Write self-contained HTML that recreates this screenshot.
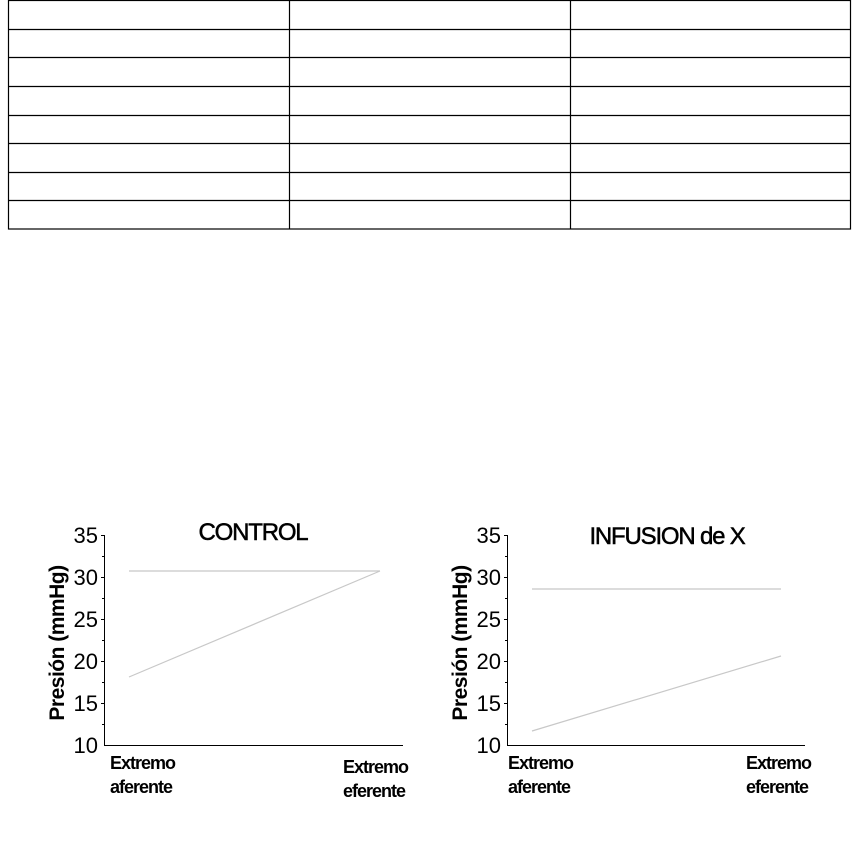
<!DOCTYPE html>
<html><head><meta charset="utf-8"><style>
html,body{margin:0;padding:0;background:#fff;width:852px;height:841px;overflow:hidden}
</style></head><body>
<svg width="852" height="841" xmlns="http://www.w3.org/2000/svg" font-family="Liberation Sans, sans-serif">
<g stroke="#000" stroke-width="1.2" fill="none">
<rect x="8.5" y="0.5" width="842" height="228.5"/>
<line x1="289.5" y1="0" x2="289.5" y2="229"/>
<line x1="570.5" y1="0" x2="570.5" y2="229"/>
<line x1="8" y1="29.5" x2="851" y2="29.5"/>
<line x1="8" y1="57.5" x2="851" y2="57.5"/>
<line x1="8" y1="86.5" x2="851" y2="86.5"/>
<line x1="8" y1="115.5" x2="851" y2="115.5"/>
<line x1="8" y1="143.5" x2="851" y2="143.5"/>
<line x1="8" y1="172.5" x2="851" y2="172.5"/>
<line x1="8" y1="200.5" x2="851" y2="200.5"/>
</g>
<!-- Chart 1 -->
<g>
<line x1="104.5" y1="535" x2="104.5" y2="746" stroke="#000"/>
<line x1="104" y1="745.5" x2="403" y2="745.5" stroke="#000"/>
<g stroke="#000">
<line x1="101" y1="535.5" x2="104" y2="535.5"/><line x1="101" y1="577.5" x2="104" y2="577.5"/><line x1="101" y1="619.5" x2="104" y2="619.5"/><line x1="101" y1="661.5" x2="104" y2="661.5"/><line x1="101" y1="703.5" x2="104" y2="703.5"/>
<line x1="102" y1="556.5" x2="104" y2="556.5"/><line x1="102" y1="598.5" x2="104" y2="598.5"/><line x1="102" y1="640.5" x2="104" y2="640.5"/><line x1="102" y1="682.5" x2="104" y2="682.5"/><line x1="102" y1="724.5" x2="104" y2="724.5"/>
</g>
<g font-size="22" text-anchor="end" fill="#000">
<text x="98" y="543">35</text><text x="98" y="585">30</text><text x="98" y="627">25</text><text x="98" y="669">20</text><text x="98" y="711">15</text><text x="98" y="753">10</text>
</g>
<text transform="translate(64,643) rotate(-90)" font-size="21" font-weight="bold" text-anchor="middle" letter-spacing="-0.5">Presión (mmHg)</text>
<text x="253" y="540" font-size="24" text-anchor="middle" letter-spacing="-1.2" stroke="#000" stroke-width="0.5">CONTROL</text>
<line x1="129" y1="571" x2="380" y2="571" stroke="#c8c8c8" stroke-width="1.2"/>
<line x1="129" y1="677" x2="380" y2="571" stroke="#c8c8c8" stroke-width="1.2"/>
<g font-size="18" font-weight="bold" letter-spacing="-1">
<text x="110" y="769">Extremo</text><text x="110" y="793">aferente</text>
<text x="343" y="773">Extremo</text><text x="343" y="797">eferente</text>
</g>
</g>
<!-- Chart 2 -->
<g>
<line x1="507.5" y1="535" x2="507.5" y2="746" stroke="#000"/>
<line x1="507" y1="745.5" x2="805" y2="745.5" stroke="#000"/>
<g stroke="#000">
<line x1="504" y1="535.5" x2="507" y2="535.5"/><line x1="504" y1="577.5" x2="507" y2="577.5"/><line x1="504" y1="619.5" x2="507" y2="619.5"/><line x1="504" y1="661.5" x2="507" y2="661.5"/><line x1="504" y1="703.5" x2="507" y2="703.5"/>
<line x1="505" y1="556.5" x2="507" y2="556.5"/><line x1="505" y1="598.5" x2="507" y2="598.5"/><line x1="505" y1="640.5" x2="507" y2="640.5"/><line x1="505" y1="682.5" x2="507" y2="682.5"/><line x1="505" y1="724.5" x2="507" y2="724.5"/>
</g>
<g font-size="22" text-anchor="end" fill="#000">
<text x="501" y="543">35</text><text x="501" y="585">30</text><text x="501" y="627">25</text><text x="501" y="669">20</text><text x="501" y="711">15</text><text x="501" y="753">10</text>
</g>
<text transform="translate(467,643) rotate(-90)" font-size="21" font-weight="bold" text-anchor="middle" letter-spacing="-0.5">Presión (mmHg)</text>
<text x="667" y="544" font-size="24" text-anchor="middle" letter-spacing="-1.2" stroke="#000" stroke-width="0.5">INFUSION de X</text>
<line x1="532" y1="589" x2="781" y2="589" stroke="#c8c8c8" stroke-width="1.2"/>
<line x1="532" y1="731" x2="781" y2="656" stroke="#c8c8c8" stroke-width="1.2"/>
<g font-size="18" font-weight="bold" letter-spacing="-1">
<text x="508" y="769">Extremo</text><text x="508" y="793">aferente</text>
<text x="746" y="769">Extremo</text><text x="746" y="793">eferente</text>
</g>
</g>
</svg>
</body></html>
